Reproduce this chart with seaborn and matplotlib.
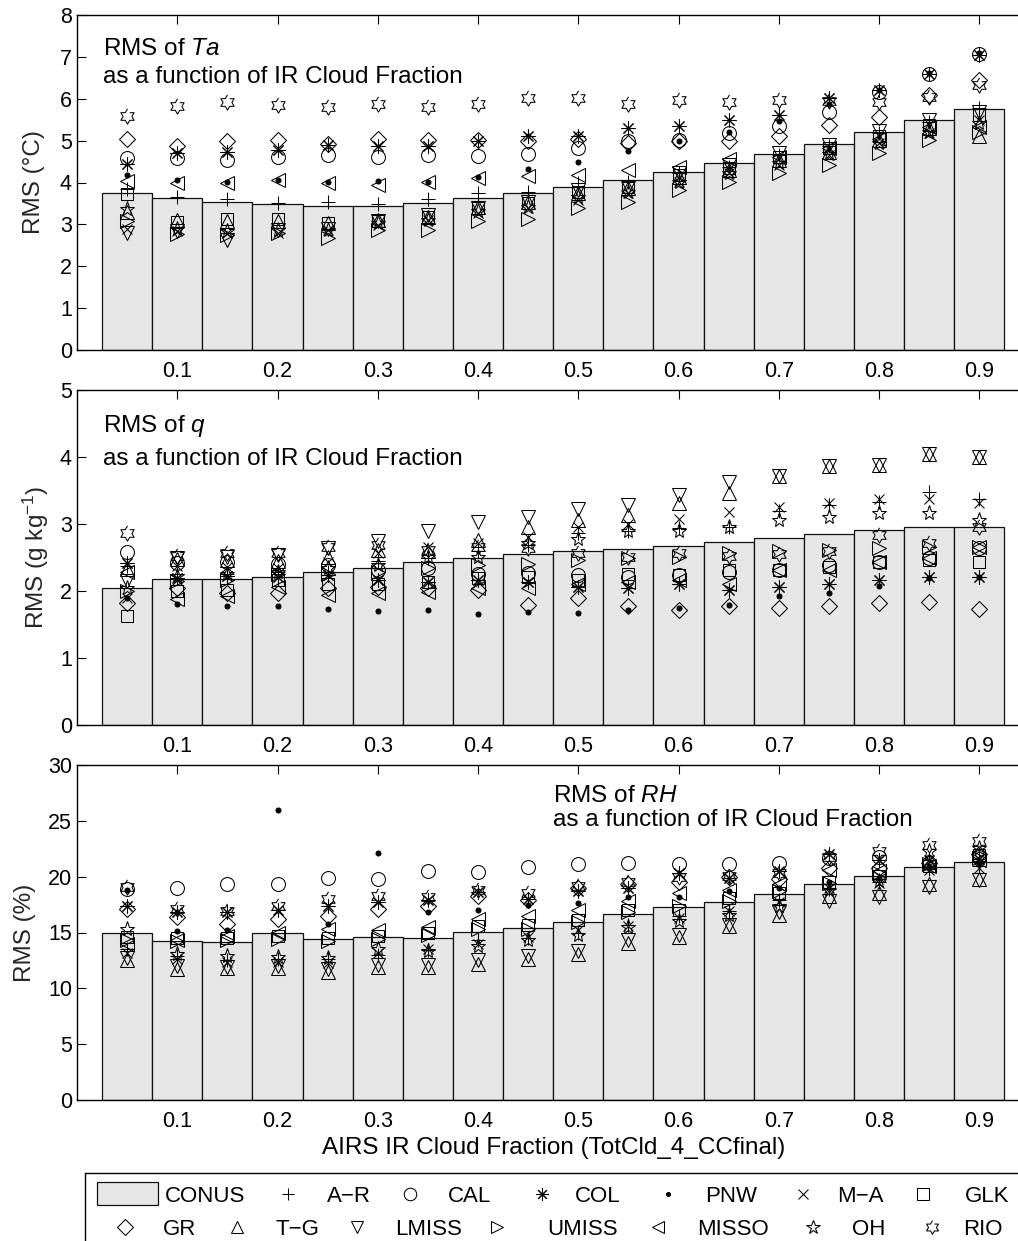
import numpy as np
import pandas as pd
import matplotlib
matplotlib.use("Agg")
import matplotlib.pyplot as plt
from matplotlib.lines import Line2D
from matplotlib.patches import Rectangle
import seaborn as sns

# ---------------------------------------------------------------- data
cloud_fraction = [0.05, 0.10, 0.15, 0.20, 0.25, 0.30, 0.35, 0.40, 0.45,
                  0.50, 0.55, 0.60, 0.65, 0.70, 0.75, 0.80, 0.85, 0.90]
xtick_values = [0.1, 0.2, 0.3, 0.4, 0.5, 0.6, 0.7, 0.8, 0.9]
xtick_labels = ["0.1", "0.2", "0.3", "0.4", "0.5", "0.6", "0.7", "0.8", "0.9"]

regions = ["A\u2212R", "CAL", "COL", "PNW", "M\u2212A", "GLK", "GR",
           "T\u2212G", "LMISS", "UMISS", "MISSO", "OH", "RIO"]

# RMS of air temperature (deg C)
ta_conus = [3.76, 3.62, 3.54, 3.48, 3.44, 3.45, 3.50, 3.63, 3.75, 3.90, 4.05, 4.26, 4.46, 4.68, 4.91, 5.20, 5.49, 5.75]
ta_ar    = [3.85, 3.65, 3.60, 3.50, 3.54, 3.49, 3.60, 3.74, 3.78, 3.98, 4.02, 4.22, 4.38, 4.66, 4.86, 5.18, 5.45, 5.77]
ta_cal   = [4.58, 4.58, 4.54, 4.62, 4.66, 4.62, 4.66, 4.63, 4.68, 4.82, 4.98, 5.02, 5.18, 5.35, 5.69, 6.17, 6.60, 7.08]
ta_col   = [4.44, 4.70, 4.74, 4.78, 4.90, 4.86, 4.86, 4.98, 5.10, 5.10, 5.29, 5.35, 5.49, 5.61, 6.01, 6.20, 6.60, 7.05]
ta_pnw   = [4.18, 4.06, 4.02, 4.06, 4.02, 4.04, 4.02, 4.14, 4.32, 4.50, 4.76, 4.98, 5.20, 5.48, 5.88, 6.22, 6.62, 7.10]
ta_ma    = [2.90, 2.85, 2.79, 2.79, 2.87, 2.99, 3.10, 3.26, 3.38, 3.58, 3.74, 4.02, 4.22, 4.42, 4.66, 4.94, 5.18, 5.49]
ta_glk   = [3.73, 3.05, 3.14, 3.14, 3.04, 3.07, 3.17, 3.38, 3.50, 3.78, 3.90, 4.18, 4.34, 4.62, 4.82, 5.10, 5.37, 5.61]
ta_gr    = [5.03, 4.88, 4.98, 5.02, 4.92, 5.05, 5.02, 5.02, 4.98, 5.05, 4.94, 5.00, 4.98, 5.11, 5.37, 5.57, 6.09, 6.45]
ta_tg    = [3.30, 3.10, 3.07, 3.07, 3.03, 3.10, 3.18, 3.42, 3.54, 3.76, 3.86, 4.14, 4.30, 4.54, 4.74, 5.02, 5.29, 5.10]
ta_lmiss = [2.79, 2.85, 2.63, 2.87, 2.90, 3.07, 3.22, 3.38, 3.54, 3.82, 3.90, 4.22, 4.42, 4.70, 4.90, 5.22, 5.49, 5.69]
ta_umiss = [3.07, 2.78, 2.75, 2.79, 2.67, 2.87, 2.87, 3.07, 3.14, 3.38, 3.54, 3.82, 4.02, 4.22, 4.42, 4.70, 5.02, 5.21]
ta_misso = [4.04, 4.00, 3.98, 4.06, 3.98, 3.94, 4.02, 4.10, 4.16, 4.18, 4.30, 4.38, 4.55, 4.60, 4.82, 5.05, 5.33, 5.33]
ta_oh    = [3.36, 2.90, 2.83, 2.87, 2.87, 3.03, 3.10, 3.33, 3.42, 3.65, 3.78, 4.02, 4.22, 4.46, 4.68, 4.95, 5.21, 5.41]
ta_rio   = [5.59, 5.83, 5.93, 5.85, 5.81, 5.88, 5.81, 5.87, 6.01, 6.01, 5.88, 5.96, 5.93, 5.97, 5.95, 5.93, 6.05, 6.33]

# RMS of specific humidity (g/kg)
q_conus = [2.04, 2.18, 2.18, 2.21, 2.28, 2.35, 2.43, 2.49, 2.55, 2.60, 2.62, 2.67, 2.73, 2.79, 2.85, 2.91, 2.96, 2.96]
q_ar    = [2.38, 2.25, 2.26, 2.28, 2.29, 2.45, 2.49, 2.60, 2.69, 2.86, 2.90, 2.94, 2.96, 3.20, 3.28, 3.33, 3.48, 3.38]
q_cal   = [2.58, 2.42, 2.44, 2.41, 2.39, 2.31, 2.34, 2.26, 2.27, 2.24, 2.21, 2.24, 2.29, 2.31, 2.39, 2.44, 2.49, 2.64]
q_col   = [2.42, 2.20, 2.22, 2.21, 2.24, 2.16, 2.14, 2.17, 2.14, 2.06, 2.04, 2.11, 2.01, 2.06, 2.11, 2.16, 2.21, 2.21]
q_pnw   = [1.89, 1.81, 1.78, 1.78, 1.73, 1.70, 1.72, 1.66, 1.68, 1.67, 1.72, 1.74, 1.79, 1.92, 1.97, 2.08, 2.19, 2.21]
q_ma    = [1.90, 2.38, 2.36, 2.34, 2.44, 2.56, 2.66, 2.71, 2.81, 2.95, 3.00, 3.08, 3.18, 3.25, 3.31, 3.37, 3.38, 3.32]
q_glk   = [1.63, 2.00, 2.01, 2.16, 2.11, 2.11, 2.14, 2.19, 2.21, 2.16, 2.26, 2.24, 2.31, 2.31, 2.36, 2.44, 2.46, 2.44]
q_gr    = [1.82, 2.05, 1.97, 1.97, 2.04, 2.06, 2.04, 2.01, 1.79, 1.89, 1.77, 1.72, 1.77, 1.74, 1.77, 1.82, 1.84, 1.73]
q_tg    = [2.33, 2.48, 2.46, 2.45, 2.51, 2.61, 2.59, 2.76, 2.96, 3.06, 3.13, 3.31, 3.46, 3.71, 3.87, 3.88, 4.05, 4.00]
q_lmiss = [2.15, 2.50, 2.51, 2.54, 2.64, 2.74, 2.89, 3.03, 3.11, 3.23, 3.28, 3.43, 3.63, 3.71, 3.87, 3.88, 4.05, 4.00]
q_umiss = [2.00, 2.15, 2.16, 2.26, 2.25, 2.28, 2.34, 2.39, 2.41, 2.46, 2.49, 2.51, 2.56, 2.59, 2.61, 2.64, 2.66, 2.66]
q_misso = [2.28, 1.88, 1.92, 2.06, 1.94, 1.97, 1.99, 2.04, 2.04, 2.11, 2.14, 2.16, 2.11, 2.31, 2.31, 2.44, 2.49, 2.66]
q_oh    = [2.05, 2.22, 2.25, 2.28, 2.35, 2.39, 2.51, 2.51, 2.71, 2.77, 2.89, 2.89, 2.96, 3.06, 3.11, 3.16, 3.16, 3.06]
q_rio   = [2.86, 2.52, 2.56, 2.56, 2.66, 2.69, 2.61, 2.66, 2.64, 2.56, 2.51, 2.56, 2.52, 2.55, 2.59, 2.84, 2.71, 2.96]

# RMS of relative humidity (%)
rh_conus = [14.93, 14.27, 14.12, 14.99, 14.39, 14.63, 14.54, 15.04, 15.43, 15.97, 16.63, 17.25, 17.70, 18.48, 19.34, 20.03, 20.90, 21.34]
rh_ar    = [13.5, 12.9, 12.5, 12.6, 12.6, 13.0, 13.4, 14.3, 14.5, 15.0, 15.7, 16.5, 16.9, 17.9, 18.9, 19.5, 20.7, 21.0]
rh_cal   = [18.9, 19.0, 19.3, 19.3, 19.9, 19.8, 20.5, 20.4, 20.9, 21.1, 21.2, 21.1, 21.1, 21.2, 21.7, 21.8, 21.2, 21.8]
rh_col   = [17.4, 16.8, 16.8, 17.0, 17.4, 17.7, 17.9, 18.6, 18.0, 18.7, 19.0, 20.3, 19.9, 20.5, 22.0, 21.5, 21.5, 21.6]
rh_pnw   = [18.8, 15.1, 15.2, 26.0, 15.8, 22.1, 16.8, 17.0, 17.5, 17.6, 18.2, 18.2, 18.7, 19.0, 19.5, 19.9, 21.0, 21.2]
rh_ma    = [13.2, 12.6, 12.4, 12.4, 12.3, 13.2, 13.5, 14.0, 14.6, 15.2, 15.6, 16.3, 16.9, 17.7, 19.0, 19.4, 20.6, 20.8]
rh_glk   = [14.6, 14.5, 14.5, 14.7, 14.5, 14.7, 15.0, 15.6, 15.7, 16.1, 17.0, 17.0, 18.1, 18.5, 19.5, 20.1, 21.0, 21.9]
rh_gr    = [17.1, 16.4, 15.8, 16.2, 16.5, 17.1, 17.4, 18.3, 17.9, 19.0, 19.3, 19.5, 20.0, 19.8, 20.8, 20.8, 21.2, 22.0]
rh_tg    = [12.5, 11.7, 11.8, 11.8, 11.5, 11.9, 11.9, 12.2, 12.6, 13.1, 14.1, 14.6, 15.6, 16.6, 18.3, 18.5, 19.3, 19.8]
rh_lmiss = [12.7, 12.0, 11.9, 12.0, 11.7, 12.1, 12.1, 12.5, 12.9, 13.3, 14.3, 14.8, 15.7, 16.8, 17.8, 18.2, 19.1, 19.7]
rh_umiss = [14.3, 14.2, 14.3, 14.4, 14.2, 14.4, 14.8, 15.3, 15.3, 15.9, 16.8, 17.4, 17.8, 18.7, 19.4, 20.3, 21.1, 21.7]
rh_misso = [14.0, 14.3, 14.7, 15.0, 15.3, 15.2, 15.5, 16.2, 16.5, 17.0, 17.8, 18.5, 18.8, 19.3, 20.6, 20.5, 21.0, 21.5]
rh_oh    = [15.3, 13.1, 12.9, 12.8, 12.7, 13.5, 13.3, 13.8, 14.3, 14.8, 15.5, 16.0, 16.6, 17.4, 18.8, 19.6, 22.3, 22.6]
rh_rio   = [19.1, 17.1, 16.9, 17.4, 18.0, 18.3, 18.2, 18.8, 18.5, 19.2, 19.5, 20.0, 20.1, 20.3, 21.8, 22.3, 22.8, 23.2]

ta_regions = [ta_ar, ta_cal, ta_col, ta_pnw, ta_ma, ta_glk, ta_gr, ta_tg, ta_lmiss, ta_umiss, ta_misso, ta_oh, ta_rio]
q_regions = [q_ar, q_cal, q_col, q_pnw, q_ma, q_glk, q_gr, q_tg, q_lmiss, q_umiss, q_misso, q_oh, q_rio]
rh_regions = [rh_ar, rh_cal, rh_col, rh_pnw, rh_ma, rh_glk, rh_gr, rh_tg, rh_lmiss, rh_umiss, rh_misso, rh_oh, rh_rio]

# ---------------------------------------------------------------- style
sns.set_style("ticks")
plt.rcParams.update({
    "font.family": ["Liberation Sans", "DejaVu Sans"],
    "mathtext.fontset": "custom",
    "mathtext.rm": "Liberation Sans",
    "mathtext.it": "Liberation Sans:italic",
    "mathtext.bf": "Liberation Sans:bold",
    "axes.linewidth": 1.0,
    "axes.edgecolor": "black",
    "text.color": "black",
    "xtick.color": "black",
    "ytick.color": "black",
})

# six-pointed star outline
_k = np.arange(12)
_ang = np.deg2rad(90 + 30 * _k)
_rad = np.where(_k % 2 == 0, 1.0, 1 / np.sqrt(3))
HEXAGRAM = list(zip(_rad * np.cos(_ang), _rad * np.sin(_ang)))

marker_styles = [
    dict(marker="+", ms=9.5),          # A-R
    dict(marker="o", ms=10),           # CAL
    dict(marker=(8, 2, 0), ms=10),     # COL
    dict(marker="o", ms=3.6, fill=True),  # PNW
    dict(marker="x", ms=7.5),          # M-A
    dict(marker="s", ms=9),            # GLK
    dict(marker="D", ms=8.6),          # GR
    dict(marker="^", ms=10),           # T-G
    dict(marker="v", ms=10),           # LMISS
    dict(marker=">", ms=10),           # UMISS
    dict(marker="<", ms=10),           # MISSO
    dict(marker="*", ms=11),           # OH
    dict(marker=HEXAGRAM, ms=11),      # RIO
]


def mstyle(st, scale=1.0):
    kw = dict(marker=st["marker"], ms=st["ms"] * scale, mec="black", mew=0.75)
    kw["mfc"] = "black" if st.get("fill") else "none"
    return kw


W, H = 1018, 1241
fig = plt.figure(figsize=(W / 100, H / 100), dpi=100)


def fx(px):
    return px / W


def fy(py):
    return 1 - py / H


AX_LEFT, AX_RIGHT = 77, 1018
AX_H = 335
XMAX = (AX_RIGHT - AX_LEFT) / 1002.5

BAR_FILL = "#e6e6e6"
TICK_FS = 15.5
LABEL_FS = 17.5
NOTE_FS = 17.5


def draw_panel(top_px, conus, region_values, ylim, yticks, ylabel, ylabel_px,
               note_main, note_x, note_y1, note_y2):
    ax = fig.add_axes([fx(AX_LEFT), fy(top_px + AX_H), fx(AX_RIGHT - AX_LEFT), AX_H / H])
    df = pd.DataFrame({"cf": cloud_fraction, "rms": conus})
    sns.barplot(data=df, x="cf", y="rms", native_scale=True, width=1.0,
                color=BAR_FILL, saturation=1, edgecolor="#111111", linewidth=0.9,
                errorbar=None, ax=ax, zorder=1)
    for vals, st in zip(region_values, marker_styles):
        ax.plot(cloud_fraction, vals, ls="none", zorder=3, **mstyle(st))

    ax.set_xlim(0, XMAX)
    ax.set_ylim(*ylim)
    ax.set_xticks(xtick_values)
    ax.set_xticklabels(xtick_labels)
    ax.set_yticks(yticks)
    ax.set_yticklabels([str(t) for t in yticks])
    ax.minorticks_off()
    ax.tick_params(axis="x", direction="in", top=True, bottom=False,
                   labeltop=False, labelbottom=True, length=6.2, width=0.8,
                   pad=8.0, labelsize=TICK_FS)
    ax.tick_params(axis="y", direction="in", left=True, right=False,
                   length=6.2, width=0.8, pad=3.6, labelsize=TICK_FS)
    ax.spines["right"].set_visible(False)
    for s in ("left", "top", "bottom"):
        ax.spines[s].set_linewidth(1.0)
        ax.spines[s].set_zorder(4)
    ax.set_xlabel("")
    ax.set_ylabel(ylabel, fontsize=LABEL_FS)
    ax.yaxis.set_label_coords((ylabel_px - AX_LEFT) / (AX_RIGHT - AX_LEFT), 0.5)
    ax.set_facecolor("white")

    fig.text(fx(note_x), fy(note_y1), note_main, fontsize=NOTE_FS, va="baseline", ha="left")
    fig.text(fx(note_x), fy(note_y2), "as a function of IR Cloud Fraction",
             fontsize=NOTE_FS, va="baseline", ha="left")
    return ax


draw_panel(15, ta_conus, ta_regions, (0, 8), [0, 1, 2, 3, 4, 5, 6, 7, 8],
           "RMS (\u00b0C)", 45, r"RMS of $\mathit{Ta}$", 103, 55, 83)
draw_panel(390, q_conus, q_regions, (0, 5), [0, 1, 2, 3, 4, 5],
           r"RMS (g kg$^{-1}$)", 51, r"RMS of $\mathit{q}$", 103, 432, 465)
draw_panel(765, rh_conus, rh_regions, (0, 30), [0, 5, 10, 15, 20, 25, 30],
           "RMS (%)", 36, r"RMS of $\mathit{RH}$", 553, 802, 826)

fig.text(fx(554), fy(1154), "AIRS IR Cloud Fraction (TotCld_4_CCfinal)",
         fontsize=17.5, ha="center", va="baseline")

# ---------------------------------------------------------------- legend
LEG_FS = 16
fig.add_artist(Line2D([fx(85), fx(1030)], [fy(1173), fy(1173)],
                      transform=fig.transFigure, color="black", lw=1.0))
fig.add_artist(Line2D([fx(85), fx(85)], [fy(1173), fy(1250)],
                      transform=fig.transFigure, color="black", lw=1.0))
fig.add_artist(Rectangle((fx(97), fy(1205)), fx(158) - fx(97), fy(1182) - fy(1205),
                         transform=fig.transFigure, facecolor=BAR_FILL,
                         edgecolor="#111111", lw=0.9))
fig.text(fx(165), fy(1202), "CONUS", fontsize=LEG_FS, va="baseline", ha="left")

row1 = [(288, 327), (410, 448), (542, 575), (668, 705), (803, 837), (923, 965)]
row2 = [(125, 163), (237, 275), (357, 395), (497, 547), (658, 697), (813, 852), (932, 963)]
slots = [(m, t, 1194, 1202) for m, t in row1] + [(m, t, 1227, 1235) for m, t in row2]
for name, st, (mx, tx, my, ty) in zip(regions, marker_styles, slots):
    scale = 0.8 if st.get("fill") else 0.9
    fig.add_artist(Line2D([fx(mx)], [fy(my)], transform=fig.transFigure,
                          ls="none", **mstyle(st, scale)))
    fig.text(fx(tx), fy(ty), name, fontsize=LEG_FS, va="baseline", ha="left")

fig.savefig("out.png", dpi=100, facecolor="white")
